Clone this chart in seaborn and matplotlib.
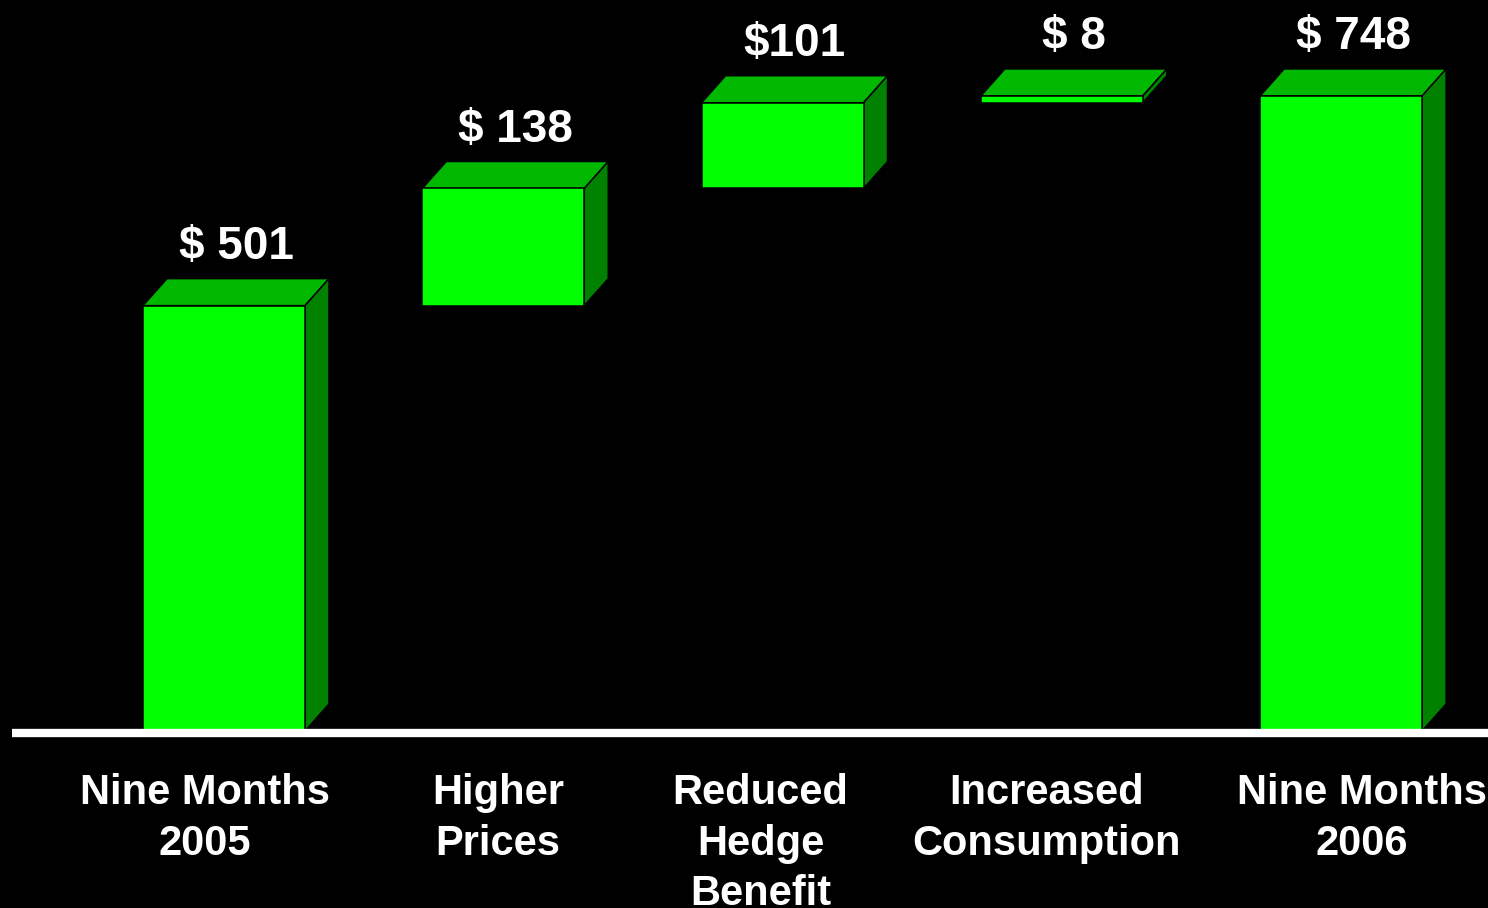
import matplotlib
matplotlib.use("Agg")
import matplotlib.pyplot as plt
import seaborn as sns
import pandas as pd
from matplotlib.patches import Polygon

# ---- data -------------------------------------------------------------
categories = ["Nine Months\n2005", "Higher\nPrices", "Reduced\nHedge\nBenefit",
              "Increased\nConsumption", "Nine Months\n2006"]
amounts = [501, 138, 101, 8, 748]
value_labels = ["$ 501", "$ 138", "$101", "$ 8", "$ 748"]
is_total = [True, False, False, False, True]

# floating steps start where the running total left off
bottoms = []
running = 0
for amt, tot in zip(amounts, is_total):
    if tot:
        bottoms.append(0)
        running = amt
    else:
        bottoms.append(running)
        running += amt

df = pd.DataFrame({"category": categories, "amount": amounts})

# ---- style ------------------------------------------------------------
sns.set_style({"axes.facecolor": "black", "figure.facecolor": "black"})
plt.rcParams["font.family"] = ["Liberation Sans", "DejaVu Sans"]

FRONT = "#00FF00"
TOP = "#00B800"
SIDE = "#008200"

fig = plt.figure(figsize=(14.88, 9.08), dpi=100, facecolor="black")
ax = fig.add_axes([0, 0, 1, 1])

sns.barplot(data=df, x="category", y="amount", bottom=bottoms, width=0.58,
            color=FRONT, saturation=1, edgecolor="black", linewidth=1.1,
            ax=ax, zorder=3)

ax.set_xlim(-0.802, 4.526)
ax.set_ylim(-208.5, 861)

# depth of the extruded boxes, in data units
dx, dy = 0.086, 31.8

for patch, lab in zip(ax.patches, value_labels):
    x0, y0 = patch.get_x(), patch.get_y()
    w, h = patch.get_width(), patch.get_height()
    top = [(x0, y0 + h), (x0 + dx, y0 + h + dy),
           (x0 + w + dx, y0 + h + dy), (x0 + w, y0 + h)]
    side = [(x0 + w, y0), (x0 + w + dx, y0 + dy),
            (x0 + w + dx, y0 + h + dy), (x0 + w, y0 + h)]
    ax.add_patch(Polygon(top, closed=True, facecolor=TOP, edgecolor="black",
                         linewidth=1.1, zorder=2))
    ax.add_patch(Polygon(side, closed=True, facecolor=SIDE, edgecolor="black",
                         linewidth=1.1, zorder=2))
    ax.text(x0 + w / 2 + dx / 2, y0 + h + dy + 23.5, lab, ha="center",
            va="baseline", color="white", fontsize=33, fontweight="bold",
            zorder=5)

# baseline
ax.axhline(-2.4, xmin=12 / 1488, xmax=1, color="white", linewidth=6.0,
           solid_capstyle="butt", zorder=4)

# category captions below the baseline
label_shift = [-0.068, -0.018, -0.079, -0.054, 0.075]
for i, (cat, s) in enumerate(zip(categories, label_shift)):
    ax.text(i + s, -50, cat, ha="center", va="top", color="white",
            fontsize=30, fontweight="bold", linespacing=1.33, zorder=5)

ax.set_axis_off()
fig.savefig("out.png", dpi=100, facecolor="black")
